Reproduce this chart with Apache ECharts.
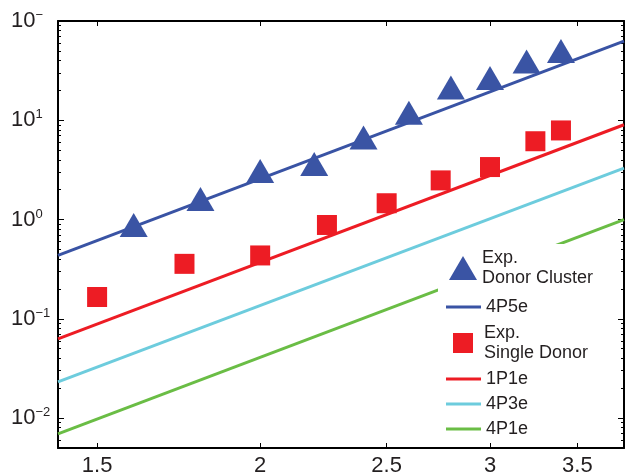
<!DOCTYPE html>
<html><head><meta charset="utf-8">
<script src="https://cdn.jsdelivr.net/npm/echarts@6/dist/echarts.min.js"></script>
<style>html,body{margin:0;padding:0;background:#fff}#c{width:629px;height:476px}</style>
</head><body><div id="c"></div>
<script>
// ---- data ----
const xTickValues = [1.5, 2, 2.5, 3, 3.5];
const yMajorValues = [0.01, 0.1, 1, 10, 100];
const yLabelBase = '10';
const yLabelExp = ['\u22122', '\u22121', '0', '1', '\u2212'];
const yMinorValues = [0.005, 0.006, 0.007, 0.008, 0.009,
  0.02, 0.03, 0.04, 0.05, 0.06, 0.07, 0.08, 0.09,
  0.2, 0.3, 0.4, 0.5, 0.6, 0.7, 0.8, 0.9,
  2, 3, 4, 5, 6, 7, 8, 9,
  20, 30, 40, 50, 60, 70, 80, 90];
const clusterX = [1.6, 1.8, 2.0, 2.2, 2.4, 2.6, 2.8, 3.0, 3.2, 3.4];
const clusterY = [0.88, 1.61, 3.09, 3.62, 6.72, 11.9, 21.4, 26.6, 39.2, 49.9];
const singleX = [1.5, 1.75, 2.0, 2.25, 2.5, 2.75, 3.0, 3.25, 3.4];
const singleY = [0.166, 0.358, 0.435, 0.882, 1.46, 2.48, 3.38, 6.15, 7.90];
const lineX = [1.4, 3.8];
const y4P5e = [0.435, 62.8];
const y1P1e = [0.0627, 9.01];
const y4P3e = [0.0232, 3.30];
const y4P1e = [0.00695, 1.0];
const names = {
  cluster: 'Exp.\nDonor Cluster',
  single: 'Exp.\nSingle Donor',
  l4P5e: '4P5e', l1P1e: '1P1e', l4P3e: '4P3e', l4P1e: '4P1e'
};

// ---- chart ----
const TXT = '#231F20';
const TICKFONT = '"Liberation Sans Narrow", "Liberation Sans", Roboto, sans-serif';
const LEGFONT = '"Liberation Sans", Arial, sans-serif';
const pairs = (xs, ys) => xs.map((x, i) => [x, ys[i]]);

const chart = echarts.init(document.getElementById('c'), null, {renderer: 'canvas'});

function yFmt(v) {
  let idx = 0, best = Infinity;
  yMajorValues.forEach((t, i) => {
    const d = Math.abs(Math.log10(t) - Math.log10(v));
    if (d < best) { best = d; idx = i; }
  });
  return '{b|' + yLabelBase + '}{s|' + yLabelExp[idx] + '}';
}

const axisLine = {show: true, lineStyle: {color: '#000', width: 2}};
const majorTickX = {show: true, inside: true, length: 5, customValues: xTickValues, lineStyle: {color: '#000', width: 1}};
const majorTickY = {show: true, inside: true, length: 6, customValues: yMajorValues, lineStyle: {color: '#000', width: 1}};
const minorTickY = {show: true, inside: true, length: 3, customValues: yMinorValues, lineStyle: {color: '#000', width: 1}};

function yAx(pos, tick, showLine, showLabel) {
  return {
    type: 'log', logBase: 10, min: 0.005, max: 100, position: pos,
    axisLine: showLine ? axisLine : {show: false},
    axisTick: tick,
    splitLine: {show: false}, minorTick: {show: false},
    axisLabel: showLabel ? {
      show: true, customValues: yMajorValues, formatter: yFmt,
      align: 'left', margin: 47, color: TXT,
      rich: {
        b: {fontSize: 22, fontFamily: TICKFONT, color: TXT, lineHeight: 24},
        s: {fontSize: 13, fontFamily: TICKFONT, color: TXT, lineHeight: 13, verticalAlign: 'top'}
      }
    } : {show: false}
  };
}

function legendItem(name, icon, left, top, w, h, pad) {
  return {
    show: true, orient: 'vertical', left: left, top: top, padding: 0,
    itemWidth: w, itemHeight: h, selectedMode: false, z: 6,
    data: [{name: name, icon: icon}],
    textStyle: {fontSize: 18, lineHeight: 20, fontFamily: LEGFONT, color: TXT, padding: pad || 0}
  };
}

const option = {
  animation: false,
  backgroundColor: '#fff',
  grid: {left: 58, right: 5, top: 21, bottom: 28, containLabel: false, outerBoundsMode: 'none'},
  xAxis: [
    {
      type: 'log', logBase: 10, min: 1.4, max: 3.8, position: 'bottom',
      axisLine: axisLine, axisTick: majorTickX,
      splitLine: {show: false}, minorTick: {show: false},
      axisLabel: {
        show: true, customValues: xTickValues, margin: 7,
        formatter: v => String(+(+v).toFixed(2)),
        fontSize: 22, fontFamily: TICKFONT, color: TXT
      }
    },
    {
      type: 'log', logBase: 10, min: 1.4, max: 3.8, position: 'top',
      axisLine: axisLine, axisTick: majorTickX,
      splitLine: {show: false}, minorTick: {show: false},
      axisLabel: {show: false}
    }
  ],
  yAxis: [
    yAx('left', majorTickY, true, true),
    yAx('left', minorTickY, false, false),
    yAx('right', majorTickY, true, false),
    yAx('right', minorTickY, false, false)
  ],
  legend: [
    legendItem(names.cluster, 'triangle', 449, 244, 28, 24, [8, 0, 0, 0]),
    legendItem(names.l4P5e, 'rect', 446, 297, 35, 3),
    legendItem(names.single, 'rect', 453, 321, 20, 20, [4, 0, 0, 6]),
    legendItem(names.l1P1e, 'rect', 446, 369, 35, 3),
    legendItem(names.l4P3e, 'rect', 446, 394, 35, 3),
    legendItem(names.l4P1e, 'rect', 446, 419, 35, 3)
  ],
  graphic: [{
    type: 'rect', z: 5, silent: true,
    shape: {x: 438, y: 244, width: 179, height: 197},
    style: {fill: '#fff'}
  }],
  series: [
    {name: names.l4P5e, type: 'line', data: pairs(lineX, y4P5e), symbol: 'none', z: 2,
      lineStyle: {color: '#3953A4', width: 3}, itemStyle: {color: '#3953A4'}},
    {name: names.l1P1e, type: 'line', data: pairs(lineX, y1P1e), symbol: 'none', z: 2,
      lineStyle: {color: '#ED1C24', width: 3}, itemStyle: {color: '#ED1C24'}},
    {name: names.l4P3e, type: 'line', data: pairs(lineX, y4P3e), symbol: 'none', z: 2,
      lineStyle: {color: '#6DCCDD', width: 3}, itemStyle: {color: '#6DCCDD'}},
    {name: names.l4P1e, type: 'line', data: pairs(lineX, y4P1e), symbol: 'none', z: 2,
      lineStyle: {color: '#6ABD45', width: 3}, itemStyle: {color: '#6ABD45'}},
    {name: names.cluster, type: 'scatter', data: pairs(clusterX, clusterY), symbol: 'triangle',
      symbolSize: [28, 24], z: 3, itemStyle: {color: '#3A54A4', opacity: 1}},
    {name: names.single, type: 'scatter', data: pairs(singleX, singleY), symbol: 'rect',
      symbolSize: 20, z: 3, itemStyle: {color: '#ED1C24', opacity: 1}}
  ]
};
chart.setOption(option);
</script>
</body></html>
